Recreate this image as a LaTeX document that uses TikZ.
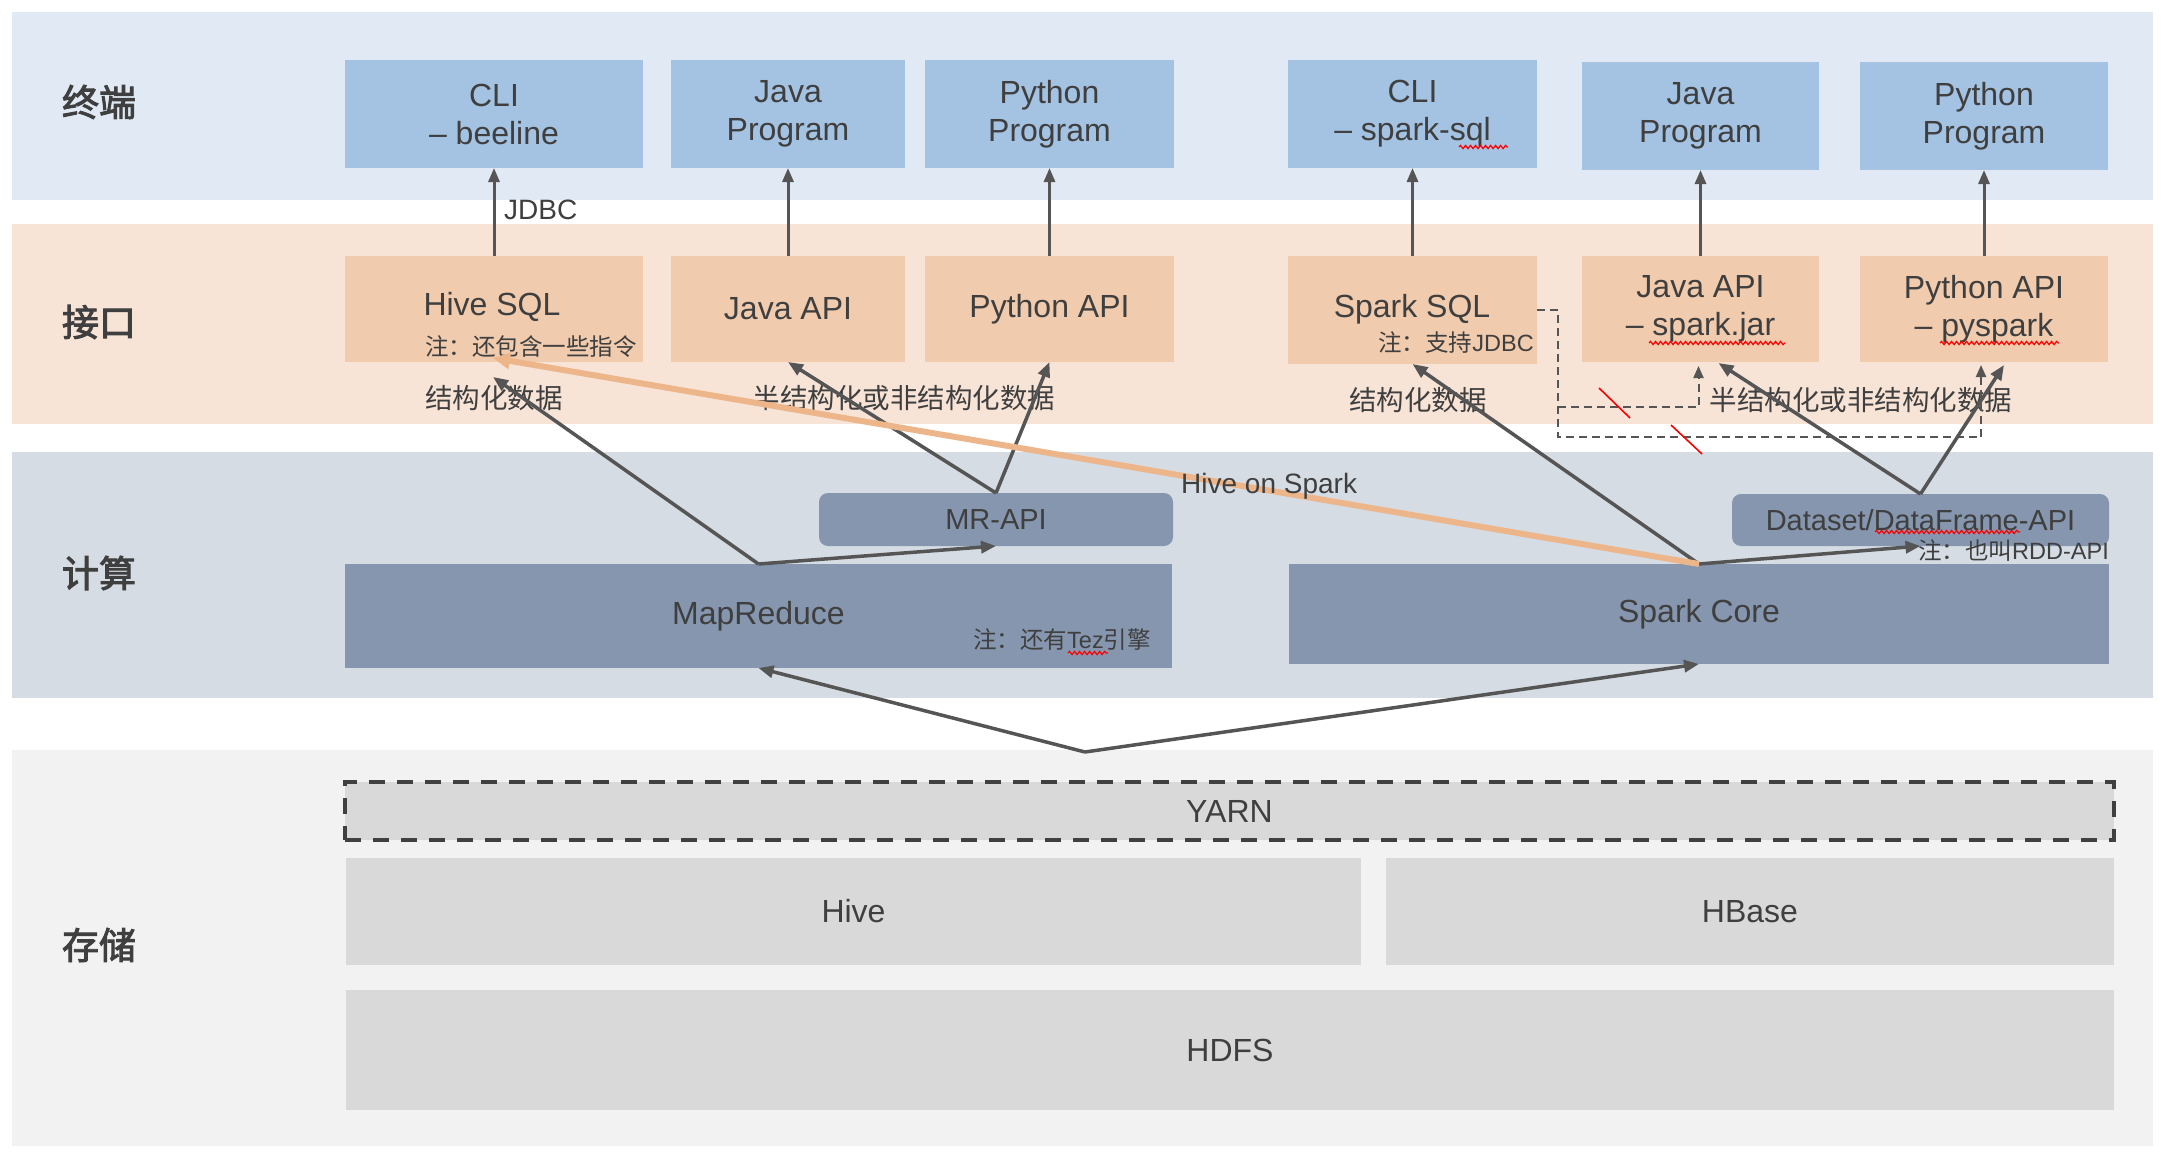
\documentclass[tikz,border=0pt]{standalone}
\usepackage{fontspec}
\setmainfont{Liberation Sans}
\newfontfamily\cjk{Noto Sans CJK SC}
\newfontfamily\cjkb{Noto Sans CJK SC}[FakeBold=2.5]
\usetikzlibrary{arrows.meta,calc,decorations.pathmorphing}
\definecolor{bandA}{HTML}{E1EAF4}
\definecolor{bandB}{HTML}{F7E4D7}
\definecolor{bandC}{HTML}{D6DCE4}
\definecolor{bandD}{HTML}{F2F2F2}
\definecolor{boxA}{HTML}{A4C2E2}
\definecolor{boxB}{HTML}{F0CBAE}
\definecolor{boxC}{HTML}{8596AE}
\definecolor{boxD}{HTML}{D9D9D9}
\definecolor{txt}{HTML}{3F3F3F}
\definecolor{arrc}{HTML}{555555}
\definecolor{orng}{HTML}{EDB68A}
\definecolor{yarnb}{HTML}{404040}
\begin{document}
\begin{tikzpicture}[x=1pt,y=-1pt,
  band/.style={fill=#1,draw=none},
  bx/.style={rectangle,fill=#1,draw=none,inner sep=0pt,outer sep=0pt,text=txt,align=center,font=\fontsize{32}{38}\selectfont},
  rbx/.style={bx=#1,rounded corners=9pt,font=\fontsize{29}{34}\selectfont},
  side/.style={text=txt,font=\cjkb\fontsize{37}{40}\selectfont},
  lbl/.style={text=txt,inner sep=0pt,font=\cjk\fontsize{27.5}{32}\selectfont},
  note/.style={text=txt,inner sep=0pt,font=\fontsize{23.5}{28}\selectfont},
  garr/.style={draw=arrc,line width=3.5pt,-{Triangle[length=15pt,width=12pt]}},
  varr/.style={draw=arrc,line width=3pt,-{Triangle[length=14pt,width=11pt]}},
  oarr/.style={draw=orng,line width=6pt,-{Triangle[length=17pt,width=16pt]}},
  darr/.style={draw=arrc,line width=2pt,dash pattern=on 8pt off 5pt,-{Triangle[length=12pt,width=10pt]}},
  dline/.style={draw=arrc,line width=2pt,dash pattern=on 8pt off 5pt},
  wavy/.style={draw=red,line width=1.2pt,decorate,decoration={snake,segment length=5pt,amplitude=1.6pt}},
  redmark/.style={draw=red,line width=1.6pt}
]
\useasboundingbox (0,0) rectangle (2166,1172);
\fill[white] (0,0) rectangle (2166,1172);
% bands
\fill[band=bandA] (12,12) rectangle (2153,200);
\fill[band=bandB] (12,224) rectangle (2153,424);
\fill[band=bandC] (12,452) rectangle (2153,698);
\fill[band=bandD] (12,750) rectangle (2153,1146);
% side labels
\node[side] (l1) at (99,102) {终端};
\node[side] (l2) at (99,322) {接口};
\node[side] (l3) at (99,573) {计算};
\node[side] (l4) at (99,945) {存储};
% top row
\node[bx=boxA,minimum width=298pt,minimum height=108pt] (cli1) at (494,114) {CLI\\– beeline};
\node[bx=boxA,minimum width=234pt,minimum height=108pt] (jp1) at (788,114) {Java\\Program};
\node[bx=boxA,minimum width=249pt,minimum height=108pt] (pp1) at (1049.5,114) {Python\\Program};
\node[bx=boxA,minimum width=249pt,minimum height=108pt] (cli2) at (1412.5,114) {CLI\\– spark-sql};
\node[bx=boxA,minimum width=237pt,minimum height=108pt] (jp2) at (1700.5,116) {Java\\Program};
\node[bx=boxA,minimum width=248pt,minimum height=108pt] (pp2) at (1984,116) {Python\\Program};
% interface row
\node[bx=boxB,minimum width=298pt,minimum height=106pt] (hsql) at (494,309) {};
\node[text=txt,font=\fontsize{32}{38}\selectfont,inner sep=0pt] (hsqlt) at (492,307) {Hive SQL};
\node[note,anchor=west] (hsqln) at (425,347) {\cjk 注：还包含一些指令};
\node[bx=boxB,minimum width=234pt,minimum height=106pt] (japi1) at (788,309) {Java API};
\node[bx=boxB,minimum width=249pt,minimum height=106pt] (papi1) at (1049.5,309) {Python API};
\node[bx=boxB,minimum width=249pt,minimum height=108pt] (ssql) at (1412.5,310) {};
\node[text=txt,font=\fontsize{32}{38}\selectfont,inner sep=0pt] (ssqlt) at (1412,309) {Spark SQL};
\node[note,anchor=east] (ssqln) at (1534,343) {{\cjk 注：支持}JDBC};
\node[bx=boxB,minimum width=237pt,minimum height=106pt] (japi2) at (1700.5,309) {Java API\\– spark.jar};
\node[bx=boxB,minimum width=248pt,minimum height=106pt] (papi2) at (1984,309) {Python API\\– pyspark};
% row labels
\node[lbl] (s1) at (494,398) {结构化数据};
\node[lbl] (u1) at (904,398) {半结构化或非结构化数据};
\node[lbl] (s2) at (1418,400) {结构化数据};
\node[lbl] (u2) at (1861,400) {半结构化或非结构化数据};
% compute
\node[rbx=boxC,minimum width=354pt,minimum height=53pt] (mrapi) at (996,519.5) {MR-API};
\node[bx=boxC,minimum width=827pt,minimum height=104pt] (mr) at (758.5,616) {MapReduce};
\node[note,anchor=west] (mrn) at (973,640) {{\cjk 注：还有}Tez{\cjk 引擎}};
\node[rbx=boxC,minimum width=377pt,minimum height=52pt] (ds) at (1920.5,520) {Dataset/DataFrame-API};
\node[bx=boxC,minimum width=820pt,minimum height=100pt] (sc) at (1699,614) {Spark Core};
\node[note,anchor=east] (dsn) at (2109,551) {{\cjk 注：也叫}RDD-API};
% storage
\node[bx=boxD,minimum width=1769pt,minimum height=58pt,draw=yarnb,line width=4pt,dash pattern=on 16pt off 12pt] (yarn) at (1229.5,811) {YARN};
\node[bx=boxD,minimum width=1015pt,minimum height=107pt] (hive) at (853.5,911.5) {Hive};
\node[bx=boxD,minimum width=728pt,minimum height=107pt] (hbase) at (1750,911.5) {HBase};
\node[bx=boxD,minimum width=1768pt,minimum height=120pt] (hdfs) at (1230,1050) {HDFS};
% vertical arrows
\draw[varr] (hsql.north) -- (cli1.south);
\node[text=txt,font=\fontsize{28}{32}\selectfont,inner sep=0pt,anchor=west] (jdbc) at (504,210) {JDBC};
\draw[varr] (japi1.north) -- (jp1.south);
\draw[varr] (papi1.north) -- (pp1.south);
\draw[varr] (ssql.north) -- (cli2.south);
\draw[varr] (japi2.north) -- (jp2.south);
\draw[varr] (papi2.north) -- (pp2.south);
% dashed JDBC links
\draw[dline] (ssql.east) -- (1558,310) -- (1558,437) -- (1981,437);
\draw[darr] (1981,437) -- ($(papi2.south)+(-3,3)$);
\draw[darr] (1558,407) -| ($(japi2.south)+(-2,4)$);
\draw[redmark] (1599,388) -- (1630,418);
\draw[redmark] (1671,425) -- (1702,454);
% compute arrows
\draw[garr] (mr.north) -- (mrapi.south);
\draw[garr] (mr.north) -- ($(hsql.south)+(-1,15)$);
\draw[garr] (mrapi.north) -- (japi1.south);
\draw[garr] (mrapi.north) -- (papi1.south);
\draw[garr] (sc.north) -- (ssql.south);
\draw[garr] (sc.north) -- (ds.south);
\draw[garr] (ds.north) -- ($(japi2.south)+(18,1)$);
\draw[garr] (ds.north) -- ($(papi2.south)+(20,3)$);
\draw[oarr] (sc.north) -- ($(hsql.south)+(-1,-4)$);
\node[text=txt,font=\fontsize{28}{32}\selectfont,inner sep=0pt,anchor=west] (hos) at (1181,486) {Hive on Spark};
% storage to compute
\coordinate (split) at (1085,752);
\draw[garr] (split) -- (mr.south);
\draw[garr] (split) -- (sc.south);
% spell-check underlines
\draw[wavy] (1459,147) -- (1508,147);
\draw[wavy] (1649,343) -- (1785,343);
\draw[wavy] (1940,343) -- (2059,343);
\draw[wavy] (1875,532) -- (2020,532);
\draw[wavy] (1068,653) -- (1108,653);
\end{tikzpicture}
\end{document}
